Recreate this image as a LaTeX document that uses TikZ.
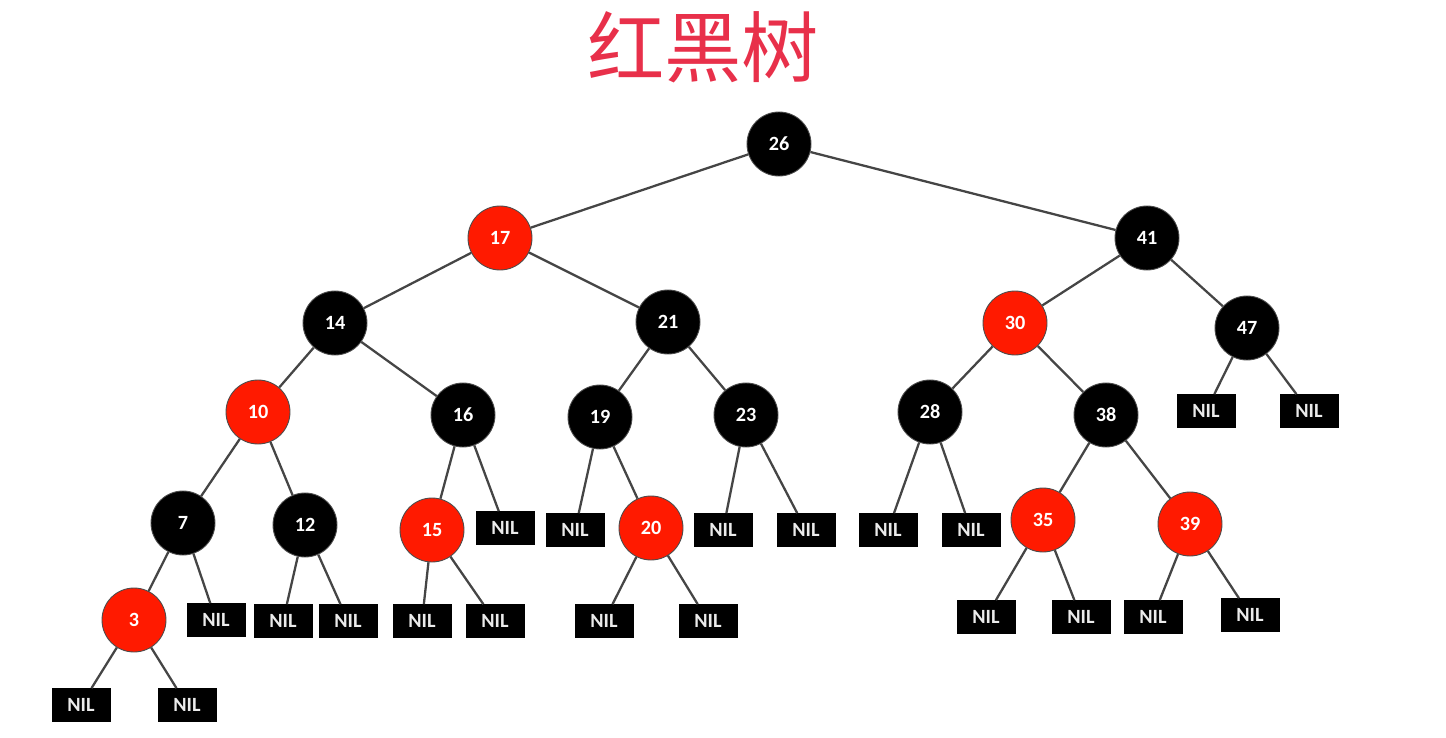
\documentclass[tikz,border=0pt]{standalone}
\usepackage{fontspec}
\setmainfont{Carlito}
\newfontfamily\cjk{Noto Sans CJK SC}
\definecolor{rbred}{HTML}{FF1A00}
\definecolor{titlered}{HTML}{E8304A}
\definecolor{edgegray}{HTML}{454545}
\begin{document}
\begin{tikzpicture}[x=0.02cm,y=-0.02cm,
  rb/.style={circle,minimum size=1.28cm,inner sep=0pt,draw=black!70,line width=0.5pt,
    font=\fontsize{11.5}{12}\selectfont\bfseries,text=white},
  bn/.style={rb,fill=black},
  rn/.style={rb,fill=rbred},
  nil/.style={rectangle,fill=black,draw=black,minimum width=1.16cm,minimum height=0.66cm,inner sep=0pt,
    font=\fontsize{11.5}{12}\selectfont\bfseries,text=white!92!black},
  edge/.style={draw=edgegray,line width=1.3pt}]
\useasboundingbox (0,0) rectangle (1446,737);
\node[text=titlered,font=\cjk\fontsize{44}{48}\selectfont] (title) at (703,47) {红黑树};
% internal nodes
\node[bn] (n26) at (779,144) {26};
\node[rn] (n17) at (500,238) {17};
\node[bn] (n41) at (1147,238) {41};
\node[bn] (n14) at (335,323) {14};
\node[bn] (n21) at (668,322) {21};
\node[rn] (n30) at (1015,323) {30};
\node[bn] (n47) at (1247,328) {47};
\node[rn] (n10) at (258,412) {10};
\node[bn] (n16) at (463,415) {16};
\node[bn] (n19) at (600,417) {19};
\node[bn] (n23) at (746,415) {23};
\node[bn] (n28) at (930,412) {28};
\node[bn] (n38) at (1106,415) {38};
\node[bn] (n7) at (183,523) {7};
\node[bn] (n12) at (305,525) {12};
\node[rn] (n15) at (432,530) {15};
\node[rn] (n20) at (651,528) {20};
\node[rn] (n35) at (1043,520) {35};
\node[rn] (n39) at (1190,524) {39};
\node[rn] (n3) at (134,620) {3};
% NIL leaves
\node[nil] (l47a) at (1206,411) {NIL};
\node[nil] (l47b) at (1309,411) {NIL};
\node[nil] (l16b) at (505,528) {NIL};
\node[nil] (l19a) at (575,530) {NIL};
\node[nil] (l23a) at (723,530) {NIL};
\node[nil] (l23b) at (806,530) {NIL};
\node[nil] (l28a) at (888,530) {NIL};
\node[nil] (l28b) at (971,530) {NIL};
\node[nil] (l7b) at (216,620) {NIL};
\node[nil] (l12a) at (283,621) {NIL};
\node[nil] (l12b) at (348,621) {NIL};
\node[nil] (l15a) at (422,621) {NIL};
\node[nil] (l15b) at (495,621) {NIL};
\node[nil] (l20a) at (604,621) {NIL};
\node[nil] (l20b) at (708,621) {NIL};
\node[nil] (l35a) at (986,617) {NIL};
\node[nil] (l35b) at (1081,617) {NIL};
\node[nil] (l39a) at (1153,617) {NIL};
\node[nil] (l39b) at (1250,615) {NIL};
\node[nil] (l3a) at (81,705) {NIL};
\node[nil] (l3b) at (187,705) {NIL};
% edges
\begin{scope}[on background layer/.style={}]
\foreach \a/\b in {n26/n17,n26/n41,n17/n14,n17/n21,n41/n30,n41/n47,
  n14/n10,n14/n16,n21/n19,n21/n23,n30/n28,n30/n38,n47/l47a,n47/l47b,
  n10/n7,n10/n12,n16/n15,n16/l16b,n19/l19a,n19/n20,n23/l23a,n23/l23b,
  n28/l28a,n28/l28b,n38/n35,n38/n39,n7/n3,n7/l7b,n12/l12a,n12/l12b,
  n15/l15a,n15/l15b,n20/l20a,n20/l20b,n35/l35a,n35/l35b,n39/l39a,n39/l39b,
  n3/l3a,n3/l3b}
  \draw[edge] (\a) -- (\b);
\end{scope}
\end{tikzpicture}
\end{document}
